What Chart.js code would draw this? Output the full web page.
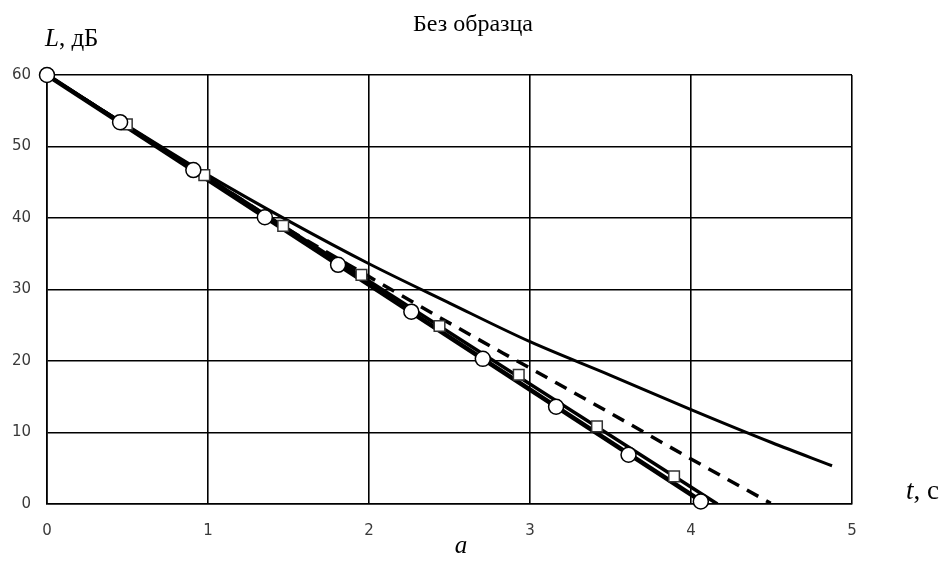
<!DOCTYPE html>
<html>
<head>
<meta charset="utf-8">
<script src="https://cdn.jsdelivr.net/npm/chart.js@4/dist/chart.umd.min.js"></script>
<style>
  html, body { margin: 0; padding: 0; background: #fff; }
  #wrap { width: 946px; height: 567px; position: relative; }
</style>
</head>
<body>
<div id="wrap"><canvas id="chart"></canvas></div>
<script>
// Без образца: спад уровня L (дБ) во времени t (с)
const TITLE = 'Без образца';

// white circles (measured points)
const circleT = [0, 0.454, 0.909, 1.353, 1.808, 2.263, 2.707, 3.162, 3.612, 4.061];
const circleL = [60, 53.4, 46.7, 40.1, 33.45, 26.9, 20.3, 13.6, 6.9, 0.36];

// white squares
const squareT = [0, 0.496, 0.977, 1.467, 1.953, 2.438, 2.93, 3.416, 3.895];
const squareL = [60, 53.1, 46.0, 38.9, 32.05, 24.9, 18.07, 10.85, 3.86];

// straight thick lines
const fitCircleT = [0, 4.09];
const fitCircleL = [60, 0];
const fitSquareT = [0, 4.164];
const fitSquareL = [60, 0];

// dashed line
const dashT = [0, 0.5, 1, 1.5, 2, 2.5, 3, 3.5, 4, 4.495];
const dashL = [60, 52.8, 45.6, 38.4, 31.8, 25.3, 19.0, 12.7, 6.3, 0.1];

// thin curve
const curveT = [0, 0.5, 1, 1.5, 2, 2.5, 3, 3.5, 4, 4.5, 4.876];
const curveL = [60, 52.9, 46.0, 39.6, 33.6, 28.1, 22.7, 18.0, 13.2, 8.6, 5.35];

const xTicks = [0, 1, 2, 3, 4, 5];
const yTicks = [0, 10, 20, 30, 40, 50, 60];

function pts(xs, ys) {
  return xs.map((x, i) => ({ x: x, y: ys[i] }));
}

// italic symbol + regular rest, e.g. "L" + ", дБ"
function drawLabel(ctx, sym, rest, x, y, size) {
  ctx.font = 'italic ' + size + 'px "Liberation Serif"';
  ctx.fillText(sym, x, y);
  x += ctx.measureText(sym).width;
  ctx.font = size + 'px "Liberation Serif"';
  ctx.fillText(rest, x, y);
}

const textPlugin = {
  id: 'texts',
  afterDraw(chart) {
    const ctx = chart.ctx;
    const a = chart.chartArea;
    ctx.save();
    ctx.fillStyle = '#000';
    ctx.textBaseline = 'alphabetic';

    ctx.textAlign = 'center';
    ctx.font = '24px "Liberation Serif"';
    ctx.fillText(TITLE, chart.width / 2, 31);

    ctx.textAlign = 'left';
    drawLabel(ctx, 'L', ', дБ', a.left - 2, 46, 25);
    drawLabel(ctx, 't', ', с', a.right + 54, 499, 27);

    ctx.textAlign = 'center';
    ctx.font = 'italic 25px "Liberation Serif"';
    ctx.fillText('а', 461, 553);
    ctx.restore();
  }
};

const lineBase = {
  showLine: true,
  pointRadius: 0,
  pointHoverRadius: 0,
  borderColor: '#000',
  fill: false
};

new Chart(document.getElementById('chart'), {
  type: 'scatter',
  data: {
    datasets: [
      {
        data: pts(circleT, circleL),
        showLine: false,
        pointStyle: 'circle',
        pointRadius: 7.5,
        pointBorderWidth: 1.5,
        pointBorderColor: '#000',
        pointBackgroundColor: '#fff',
        clip: false
      },
      {
        data: pts(squareT, squareL),
        showLine: false,
        pointStyle: 'rect',
        pointRadius: 7.5,
        pointBorderWidth: 1.5,
        pointBorderColor: '#333',
        pointBackgroundColor: '#fff',
        clip: false
      },
      Object.assign({}, lineBase, { data: pts(fitCircleT, fitCircleL), borderWidth: 4.5 }),
      Object.assign({}, lineBase, { data: pts(fitSquareT, fitSquareL), borderWidth: 3.5 }),
      Object.assign({}, lineBase, { data: pts(dashT, dashL), borderWidth: 3.5, borderDash: [13, 9], cubicInterpolationMode: 'monotone' }),
      Object.assign({}, lineBase, { data: pts(curveT, curveL), borderWidth: 3, cubicInterpolationMode: 'monotone' })
    ]
  },
  options: {
    responsive: true,
    maintainAspectRatio: false,
    animation: false,
    events: [],
    layout: { padding: { left: 0, top: 75, right: 94, bottom: 0 } },
    plugins: {
      legend: { display: false },
      tooltip: { enabled: false },
      title: { display: false }
    },
    scales: {
      x: {
        type: 'linear',
        min: 0,
        max: 5,
        afterBuildTicks: s => { s.ticks = xTicks.map(v => ({ value: v })); },
        afterFit: s => { s.height = 63; },
        ticks: { padding: 18, color: '#3a3a3a', font: { family: '"DejaVu Sans"', size: 15 } },
        grid: { color: '#000', lineWidth: 1.6, drawTicks: false },
        border: { color: '#000', width: 1.6 }
      },
      y: {
        type: 'linear',
        min: 0,
        max: 60,
        afterBuildTicks: s => { s.ticks = yTicks.map(v => ({ value: v })); },
        afterFit: s => { s.width = 47; },
        ticks: { padding: 16, color: '#3a3a3a', font: { family: '"DejaVu Sans"', size: 15 } },
        grid: { color: '#000', lineWidth: 1.6, drawTicks: false },
        border: { color: '#000', width: 1.6 }
      }
    }
  },
  plugins: [textPlugin]
});
</script>
</body>
</html>
